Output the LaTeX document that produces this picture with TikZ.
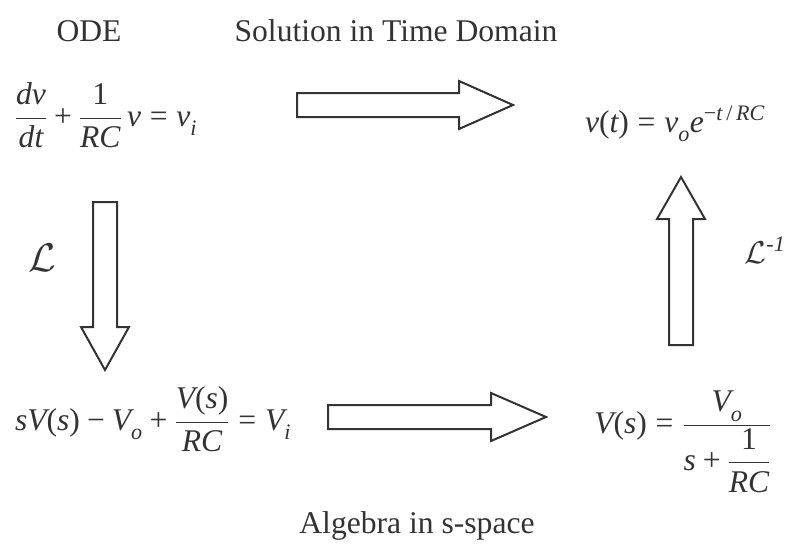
\RequirePackage{fix-cm}
\documentclass[tikz,border=0pt]{standalone}
\usepackage{amsmath}
\usepackage{fontspec}
\setmainfont{Liberation Serif}
\definecolor{ink}{HTML}{333333}
\newcommand{\mv}[1]{\textit{#1}}
\newcommand{\lo}[1]{\textit{\raisebox{-5pt}{#1}}}
\newcommand{\up}[1]{\textup{#1}}
\newcommand{\eq}{\mathrel{\textup{=}}}
\newcommand{\pl}{\mathbin{\textup{+}}}
\newcommand{\mn}{\mathbin{\textup{\symbol{"2212}}}}

\begin{document}
\begin{tikzpicture}[x=1pt, y=-1pt, line width=2pt, line join=miter,
  txt/.style={inner sep=0pt, text=ink, font=\fontsize{31.6}{38}\selectfont},
  blk/.style={draw=ink, fill=white}]
  \useasboundingbox (0,0) rectangle (790,544);
  \coordinate (A) at (297,105);
  \coordinate (B) at (105,202);
  \coordinate (C) at (681,345);
  \coordinate (D) at (328,417);
  \draw[blk] (A) ++(0,-12) -- ++(162,0) -- ++(0,-12) -- (513,105) -- (459,129) -- ++(0,-12) -- ++(-162,0) -- cycle;
  \draw[blk] (B) ++(-12,0) -- ++(0,125) -- ++(-12,0) -- (105,370) -- (129,327) -- ++(-12,0) -- ++(0,-125) -- cycle;
  \draw[blk] (C) ++(-12,0) -- ++(0,-126) -- ++(-12,0) -- (681,177) -- (705,219) -- ++(-12,0) -- ++(0,126) -- cycle;
  \draw[blk] (D) ++(0,-12) -- ++(163,0) -- ++(0,-12) -- (546,417) -- (491,441) -- ++(0,-12) -- ++(-163,0) -- cycle;
  \node[txt, anchor=base] (ode) at (89,41) {ODE};
  \node[txt, anchor=base] (soln) at (396,41) {Solution in Time Domain};
  \node[txt, anchor=base] (alg) at (417,533) {Algebra in s-space};
  \node[txt, anchor=base] (eqode) at (106,126)
    {$\dfrac{\mv{dv}}{\mv{dt}}\pl\dfrac{\up{1}}{\mv{RC}}\,\mv{v}\eq\mv{v}_{\lo{i}}$};
  \node[txt, anchor=base] (eqsol) at (675,132)
    {$\mv{v}\up{(}\mv{t}\up{)}\eq\mv{v}_{\lo{o}}\mv{e}^{\mn\mv{t}\,\up{/}\,\mv{RC}}$};
  \node[txt, anchor=base] (eqalg) at (153,430)
    {$\mv{sV}\up{(}\mv{s}\up{)}\mn\mv{V}_{\lo{o}}\pl\dfrac{\mv{V}\up{(}\mv{s}\up{)}}{\mv{RC}}\eq\mv{V}_{\lo{i}}$};
  \node[txt, anchor=base] (eqvs) at (683,433)
    {$\mv{V}\up{(}\mv{s}\up{)}\eq\dfrac{\;\mv{V}_{\lo{o}}\;}{\mv{s}\pl\dfrac{\up{1}}{\mv{RC}}}$};
  \node[txt, font=\fontsize{40}{48}\selectfont] (lap) at (42,258) {$\mathcal{L}$};
  \node[txt] (ilap) at (765,250) {$\mathcal{L}^{\mv{-1}}$};
\end{tikzpicture}
\end{document}
